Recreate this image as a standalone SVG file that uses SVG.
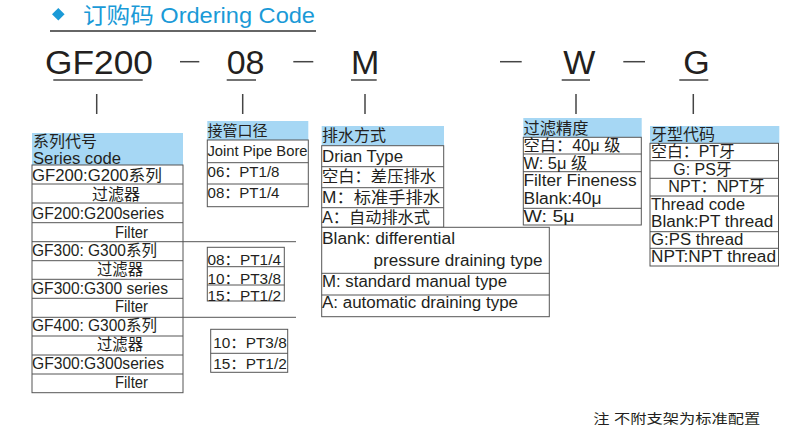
<svg xmlns="http://www.w3.org/2000/svg" width="800" height="429" viewBox="0 0 800 429">
<style>
text{font-family:"Liberation Sans","Noto Sans CJK SC",sans-serif;fill:#231f20;}
.t{font-size:16px;}
.s{font-size:15px;}
.big{font-size:34px;}
.hd{fill:#a6d7f4;stroke:none;}
.bx{fill:#ffffff;stroke:#555555;stroke-width:1;}
.ln{stroke:#555555;stroke-width:1;fill:none;}
.cn{stroke:#444444;stroke-width:1.5;fill:none;}
</style>
<rect x="0" y="0" width="800" height="429" fill="#ffffff"/>

<g id="title">
<polygon points="58.3,8 64.6,14.3 58.3,20.6 52,14.3" fill="#1a9ad7"/>
<text x="83" y="23" style="font-size:22px;fill:#1a9ad7" textLength="232" lengthAdjust="spacingAndGlyphs">订购码 Ordering Code</text>
<line x1="50" y1="31" x2="316" y2="31" stroke="#333333" stroke-width="1.5"/>
</g>

<g id="code">
<text class="big" x="45" y="74" textLength="108" lengthAdjust="spacingAndGlyphs">GF200</text>
<text class="big" x="226.7" y="74">08</text>
<text class="big" x="351" y="74">M</text>
<text class="big" x="563.3" y="74">W</text>
<text class="big" x="683.3" y="74">G</text>
</g>

<g id="connectors">
<line class="cn" x1="180" y1="61.7" x2="199.3" y2="61.7"/>
<line class="cn" x1="293.3" y1="61.7" x2="313.3" y2="61.7"/>
<line class="cn" x1="500" y1="61.7" x2="521.7" y2="61.7"/>
<line class="cn" x1="623.3" y1="61.7" x2="645" y2="61.7"/>
<line class="cn" x1="53.3" y1="80" x2="142.7" y2="80"/>
<line class="cn" x1="226.7" y1="80" x2="256" y2="80"/>
<line class="cn" x1="351" y1="80" x2="376.7" y2="80"/>
<line class="cn" x1="561.7" y1="80" x2="590" y2="80"/>
<line class="cn" x1="679.3" y1="80" x2="708.3" y2="80"/>
<line class="cn" x1="96.7" y1="94" x2="96.7" y2="114"/>
<line class="cn" x1="242.7" y1="94" x2="242.7" y2="114"/>
<line class="cn" x1="365" y1="94" x2="365" y2="114"/>
<line class="cn" x1="576" y1="94" x2="576" y2="114"/>
<line class="cn" x1="693.3" y1="94" x2="693.3" y2="114"/>
</g>

<g id="series">
<rect class="hd" x="32" y="133" width="151" height="32"/>
<text class="t" x="33" y="147" textLength="64" lengthAdjust="spacingAndGlyphs">系列代号</text>
<rect class="bx" x="32" y="165" width="151" height="227.7"/>
<text style="font-size:16.5px" x="33" y="164" textLength="88" lengthAdjust="spacingAndGlyphs">Series code</text>
<line class="ln" x1="32" y1="184" x2="183" y2="184"/>
<line class="ln" x1="32" y1="203" x2="183" y2="203"/>
<line class="ln" x1="32" y1="222.7" x2="183" y2="222.7"/>
<line class="ln" x1="32" y1="241.7" x2="296" y2="241.7"/>
<line class="ln" x1="32" y1="260.7" x2="183" y2="260.7"/>
<line class="ln" x1="32" y1="279.3" x2="183" y2="279.3"/>
<line class="ln" x1="32" y1="298.3" x2="183" y2="298.3"/>
<line class="ln" x1="32" y1="317.3" x2="296" y2="317.3"/>
<line class="ln" x1="32" y1="336" x2="183" y2="336"/>
<line class="ln" x1="32" y1="355" x2="183" y2="355"/>
<line class="ln" x1="32" y1="374" x2="183" y2="374"/>
<text class="t" x="32" y="181" textLength="130" lengthAdjust="spacingAndGlyphs">GF200:G200系列</text>
<text class="t" x="92" y="200" textLength="48" lengthAdjust="spacingAndGlyphs">过滤器</text>
<text class="t" x="32" y="218.5" textLength="132" lengthAdjust="spacingAndGlyphs">GF200:G200series</text>
<text class="t" x="115" y="238" textLength="33" lengthAdjust="spacingAndGlyphs">Filter</text>
<text class="t" x="32" y="256" textLength="125" lengthAdjust="spacingAndGlyphs">GF300: G300系列</text>
<text class="t" x="97" y="275" textLength="46" lengthAdjust="spacingAndGlyphs">过滤器</text>
<text class="t" x="32" y="293.5" textLength="136" lengthAdjust="spacingAndGlyphs">GF300:G300 series</text>
<text class="t" x="115" y="312" textLength="33" lengthAdjust="spacingAndGlyphs">Filter</text>
<text class="t" x="32" y="331" textLength="125" lengthAdjust="spacingAndGlyphs">GF400: G300系列</text>
<text class="t" x="97" y="350" textLength="46" lengthAdjust="spacingAndGlyphs">过滤器</text>
<text class="t" x="32" y="369" textLength="132" lengthAdjust="spacingAndGlyphs">GF300:G300series</text>
<text class="t" x="115" y="387.5" textLength="33" lengthAdjust="spacingAndGlyphs">Filter</text>
</g>

<g id="pipe-bore">
<rect class="hd" x="207.3" y="121" width="101" height="19"/>
<text class="s" x="207.5" y="135.5" textLength="60" lengthAdjust="spacingAndGlyphs">接管口径</text>
<rect class="bx" x="207.3" y="140" width="101" height="66.7"/>
<line class="ln" x1="207.3" y1="162.7" x2="308.3" y2="162.7"/>
<line class="ln" x1="207.3" y1="184" x2="308.3" y2="184"/>
<text class="s" x="207.5" y="156" textLength="100" lengthAdjust="spacingAndGlyphs">Joint Pipe Bore</text>
<text class="s" x="207.5" y="177" textLength="72" lengthAdjust="spacingAndGlyphs">06：PT1/8</text>
<text class="s" x="207.5" y="197.5" textLength="72" lengthAdjust="spacingAndGlyphs">08：PT1/4</text>
</g>

<g id="pipe-bore-300">
<rect class="bx" x="207.3" y="247.3" width="77" height="53.7"/>
<line class="ln" x1="207.3" y1="266.7" x2="284.3" y2="266.7"/>
<line class="ln" x1="207.3" y1="285" x2="284.3" y2="285"/>
<text class="s" x="207.5" y="265" textLength="73.5" lengthAdjust="spacingAndGlyphs">08：PT1/4</text>
<text class="s" x="207.5" y="283.5" textLength="73.5" lengthAdjust="spacingAndGlyphs">10：PT3/8</text>
<text class="s" x="207.5" y="301" textLength="73.5" lengthAdjust="spacingAndGlyphs">15：PT1/2</text>
</g>

<g id="pipe-bore-400">
<rect class="bx" x="210.7" y="329.3" width="77" height="43"/>
<line class="ln" x1="210.7" y1="353.3" x2="287.7" y2="353.3"/>
<text class="s" x="213.3" y="347.7" textLength="73.4" lengthAdjust="spacingAndGlyphs">10：PT3/8</text>
<text class="s" x="213.3" y="368.5" textLength="73.4" lengthAdjust="spacingAndGlyphs">15：PT1/2</text>
</g>

<g id="drain-type">
<rect class="hd" x="321.7" y="126" width="122.3" height="19.7"/>
<text class="t" x="322" y="140.5" textLength="64" lengthAdjust="spacingAndGlyphs">排水方式</text>
<rect class="bx" x="321.7" y="145.7" width="122" height="81.6"/>
<line class="ln" x1="321.7" y1="166.7" x2="443.7" y2="166.7"/>
<line class="ln" x1="321.7" y1="187.7" x2="443.7" y2="187.7"/>
<line class="ln" x1="321.7" y1="207.7" x2="443.7" y2="207.7"/>
<rect class="bx" x="321.7" y="227.3" width="227.6" height="89.4"/>
<line class="ln" x1="321.7" y1="273.3" x2="549.3" y2="273.3"/>
<line class="ln" x1="321.7" y1="295" x2="549.3" y2="295"/>
<text class="t" x="322" y="162" textLength="81" lengthAdjust="spacingAndGlyphs">Drian Type</text>
<text class="t" x="322" y="182" textLength="114" lengthAdjust="spacingAndGlyphs">空白：差压排水</text>
<text class="t" x="322" y="203" textLength="118" lengthAdjust="spacingAndGlyphs">M：标准手排水</text>
<text class="t" x="322" y="223" textLength="108" lengthAdjust="spacingAndGlyphs">A：自动排水式</text>
<text class="t" x="322" y="243.5" textLength="133" lengthAdjust="spacingAndGlyphs">Blank: differential</text>
<text class="t" x="373.5" y="266" textLength="169" lengthAdjust="spacingAndGlyphs">pressure draining type</text>
<text class="t" x="322" y="287" textLength="185" lengthAdjust="spacingAndGlyphs">M: standard manual type</text>
<text class="t" x="322" y="307.5" textLength="196" lengthAdjust="spacingAndGlyphs">A: automatic draining type</text>
</g>

<g id="filter-fineness">
<rect class="hd" x="523.3" y="118" width="118.4" height="19.3"/>
<text class="t" x="523.5" y="134" textLength="65" lengthAdjust="spacingAndGlyphs">过滤精度</text>
<rect class="bx" x="523.3" y="137.3" width="118" height="87.7"/>
<line class="ln" x1="523.3" y1="154" x2="641.3" y2="154"/>
<line class="ln" x1="523.3" y1="171.7" x2="641.3" y2="171.7"/>
<line class="ln" x1="523.3" y1="208.3" x2="641.3" y2="208.3"/>
<text class="t" x="523.5" y="151" textLength="97" lengthAdjust="spacingAndGlyphs">空白：40μ 级</text>
<text class="t" x="523.5" y="168.5" textLength="64" lengthAdjust="spacingAndGlyphs">W: 5μ 级</text>
<text class="t" x="523.5" y="186" textLength="113" lengthAdjust="spacingAndGlyphs">Filter Fineness</text>
<text class="t" x="523.5" y="204" textLength="78" lengthAdjust="spacingAndGlyphs">Blank:40μ</text>
<text class="t" x="523.5" y="221.7" textLength="51" lengthAdjust="spacingAndGlyphs">W: 5μ</text>
</g>

<g id="thread-code">
<rect class="hd" x="650" y="126" width="129.3" height="17.3"/>
<text class="t" x="651" y="139.5" textLength="64" lengthAdjust="spacingAndGlyphs">牙型代码</text>
<rect class="bx" x="650" y="143.3" width="128.5" height="122.7"/>
<line class="ln" x1="650" y1="160.7" x2="778.5" y2="160.7"/>
<line class="ln" x1="650" y1="178.3" x2="778.5" y2="178.3"/>
<line class="ln" x1="650" y1="196" x2="778.5" y2="196"/>
<line class="ln" x1="650" y1="231.7" x2="778.5" y2="231.7"/>
<line class="ln" x1="650" y1="248.3" x2="778.5" y2="248.3"/>
<text class="t" x="651" y="157" textLength="84" lengthAdjust="spacingAndGlyphs">空白：PT牙</text>
<text class="t" x="673.3" y="174.5" textLength="58.4" lengthAdjust="spacingAndGlyphs">G: PS牙</text>
<text class="t" x="668.3" y="192" textLength="96.7" lengthAdjust="spacingAndGlyphs">NPT：NPT牙</text>
<text class="t" x="651" y="209.5" textLength="94" lengthAdjust="spacingAndGlyphs">Thread code</text>
<text class="t" x="651" y="227" textLength="122.3" lengthAdjust="spacingAndGlyphs">Blank:PT thread</text>
<text class="t" x="651" y="244.5" textLength="92.3" lengthAdjust="spacingAndGlyphs">G:PS thread</text>
<text class="t" x="651" y="262" textLength="125" lengthAdjust="spacingAndGlyphs">NPT:NPT thread</text>
</g>

<g id="note">
<text style="font-size:13px" x="593.3" y="423" textLength="167" lengthAdjust="spacingAndGlyphs">注 不附支架为标准配置</text>
</g>
</svg>
